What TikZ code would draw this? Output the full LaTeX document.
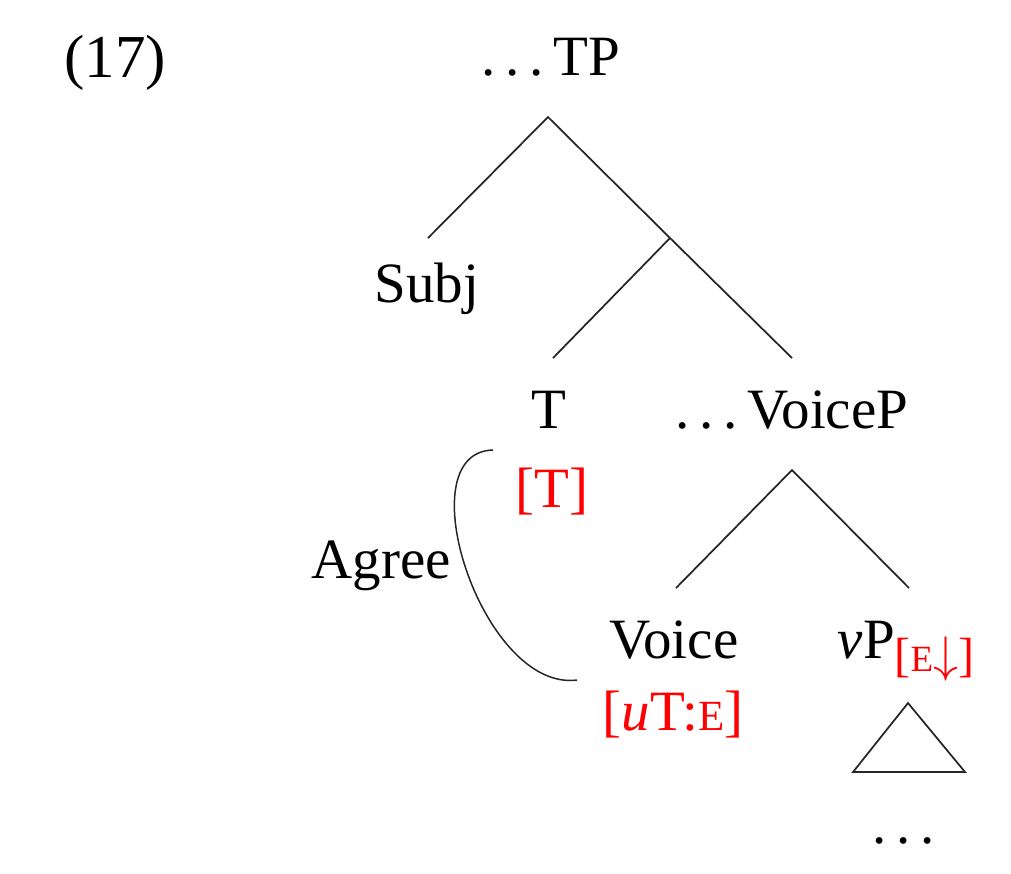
\documentclass[tikz,border=0pt]{standalone}
\usepackage{fontspec}
\setmainfont{Liberation Serif}
\usetikzlibrary{positioning}

\newcommand{\smallE}{{\fontsize{8.6}{10}\selectfont E}}
\newcommand{\spdots}{.\kern0.17em.\kern0.17em.\kern0.17em}

\begin{document}
\begin{tikzpicture}[x=0.2pt, y=-0.2pt,
    lbl/.style={anchor=base, inner sep=0pt, font=\fontsize{11.4}{13.7}\selectfont},
    feat/.style={lbl, text=red},
    branch/.style={draw=black!85, line width=0.35pt}]
  \useasboundingbox (0,0) rectangle (1011,873);
  % labels
  \node [lbl, font=\fontsize{12.2}{14}\selectfont] (exnum) at (115,77) {(17)};
  \node [lbl] (tp) at (551,75) {\spdots TP};
  \node [lbl] (subj) at (427,302) {Subj};
  \node [lbl] (t) at (549,428) {T};
  \node [feat] (tfeat) at (552,507) {[T]};
  \node [lbl] (voicep) at (792,428) {\spdots VoiceP};
  \node [lbl] (voice) at (674,658) {Voice};
  \node [feat] (voicefeat) at (673,730) {[\textit{u}T:\smallE]};
  \node [lbl] (vp) at (906,658) {\textit{v}P\textcolor{red}{\raisebox{-0.5ex}{\fontsize{9.6}{11}\selectfont[{\fontsize{7.4}{9}\selectfont E}$\downarrow$]}}};
  \node [lbl] (dots) at (904,843) {.\kern0.17em.\kern0.17em.};
  \node [lbl] (agree) at (381,578) {Agree};
  % branch points
  \coordinate (tp-top) at (548,117);
  \coordinate (subj-top) at (428,238);
  \coordinate (tbar) at (670,238);
  \coordinate (t-top) at (553,358);
  \coordinate (voicep-top) at (792,358);
  \coordinate (voicep-bot) at (792,470);
  \coordinate (voice-top) at (676,588);
  \coordinate (vp-top) at (909,588);
  \coordinate (tri-a) at (908,703);
  \coordinate (tri-l) at (853,772);
  \coordinate (tri-r) at (965,772);
  \coordinate (agree-s) at (493,450);
  \coordinate (agree-e) at (577,680);
  % tree
  \path [branch] (subj-top) -- (tp-top) -- (tbar) -- (voicep-top);
  \path [branch] (tbar) -- (t-top);
  \path [branch] (voice-top) -- (voicep-bot) -- (vp-top);
  \path [branch] (tri-a) -- (tri-l) -- (tri-r) -- cycle;
  % agree
  \path [branch, line width=0.3pt] (agree-s) .. controls (405,452) and (482,692) .. (agree-e);
\end{tikzpicture}
\end{document}
